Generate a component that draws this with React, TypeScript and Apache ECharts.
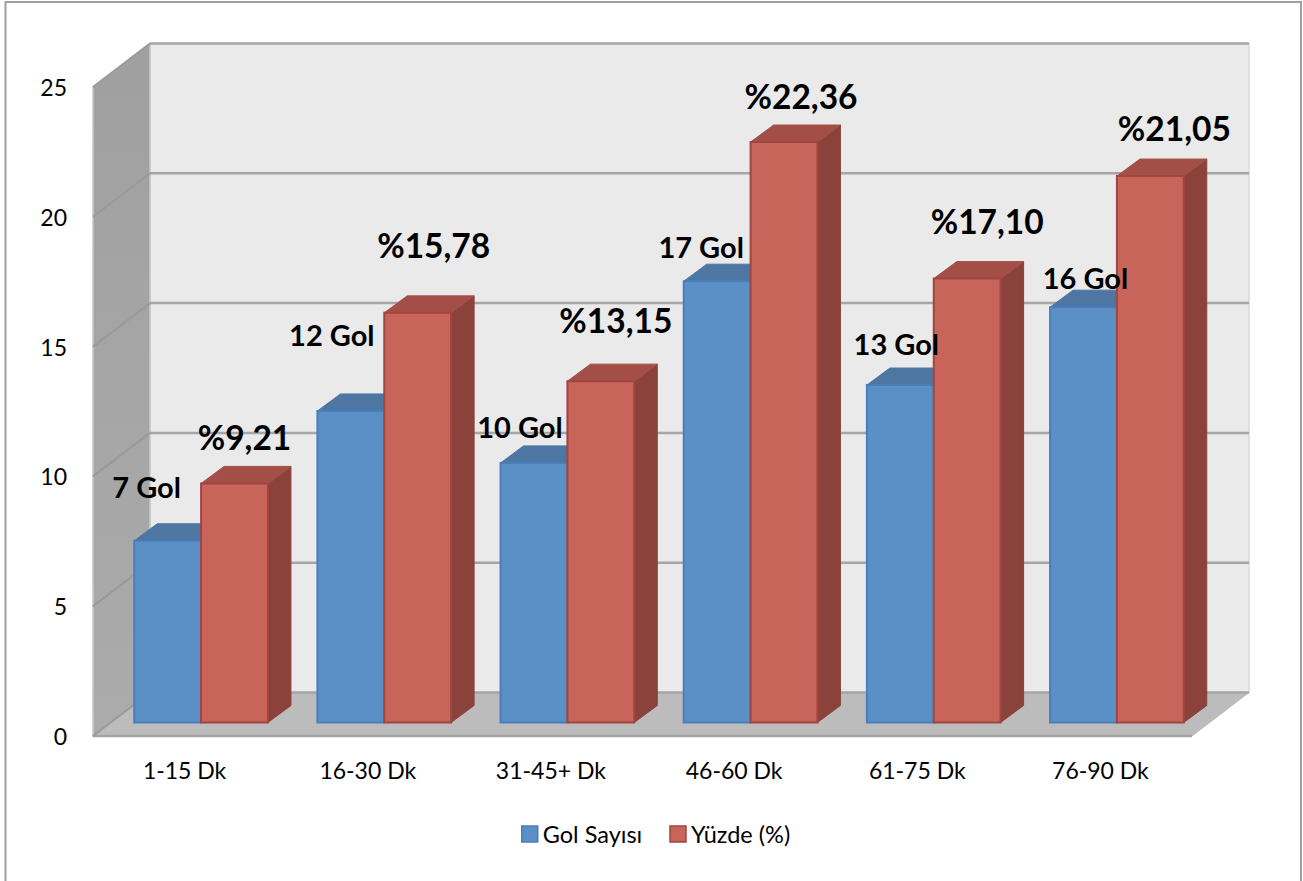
import React, { useEffect, useRef } from "react";
import * as echarts from "echarts";

const categories = ["1-15 Dk", "16-30 Dk", "31-45+ Dk", "46-60 Dk", "61-75 Dk", "76-90 Dk"];
const golValues = [7, 12, 10, 17, 13, 16];
const yuzdeValues = [9.21, 15.78, 13.15, 22.36, 17.1, 21.05];
const golLabels = ["7 Gol", "12 Gol", "10 Gol", "17 Gol", "13 Gol", "16 Gol"];
const yuzdeLabels = ["%9,21", "%15,78", "%13,15", "%22,36", "%17,10", "%21,05"];
const gridTicks = [0, 5, 10, 15, 20, 25];

// hand-placed data label offsets, relative to the top-centre of each bar's front face
const golLabelOffsets = [[-21, -54], [-19, -76], [-14, -36], [-16, -35], [-4, -42], [2, -30]];
const yuzdeLabelOffsets = [[10, -46], [16, -68], [15, -61], [17, -46], [20, -58], [24, -48]];

const FONT = "Lato, Carlito, Calibri, sans-serif";
const WALL_DX = 57;
const WALL_DY = -43.5;
const BAR_DX = 16.5;
const BAR_DY = -13.5;
const DEPTH_X = 23;
const DEPTH_Y = -17;
const BAR_RATIO = 0.365;

const poly = (points: number[][], style: any) => ({ type: "polygon", shape: { points }, style });
const seg = (a: number[], b: number[], stroke: string, lineWidth: number) => ({
  type: "line",
  shape: { x1: a[0], y1: a[1], x2: b[0], y2: b[1] },
  style: { stroke, lineWidth },
});

const wallsRender = (params: any) => {
  const r = params.coordSys;
  const L = r.x, R = r.x + r.width, T = r.y, B = r.y + r.height;
  return {
    type: "group",
    children: [
      poly([[L + WALL_DX, T + WALL_DY], [R + WALL_DX, T + WALL_DY], [R + WALL_DX, B + WALL_DY], [L + WALL_DX, B + WALL_DY]], { fill: "#EAEAEA", stroke: "#DADADA", lineWidth: 1.5 }),
      poly([[L, T], [L + WALL_DX, T + WALL_DY], [L + WALL_DX, B + WALL_DY], [L, B]], {
        fill: new echarts.graphic.LinearGradient(0, 0, 0, 1, [
          { offset: 0, color: "#A0A0A0" },
          { offset: 1, color: "#ABABAB" },
        ]),
        stroke: "#C8C8C8",
        lineWidth: 1.5,
      }),
      poly([[L, B], [L + WALL_DX, B + WALL_DY], [R + WALL_DX, B + WALL_DY], [R, B]], { fill: "#BCBCBC", stroke: "#BCBCBC", lineWidth: 1 }),
      seg([L, B], [R, B], "#A3A3A3", 2.5),
    ],
  };
};

const gridRender = (params: any, api: any) => {
  const r = params.coordSys;
  const y = api.coord([0, api.value(0)])[1];
  return {
    type: "group",
    children: [
      seg([r.x, y], [r.x + WALL_DX, y + WALL_DY], "#999999", 2),
      seg([r.x + WALL_DX, y + WALL_DY], [r.x + r.width + WALL_DX, y + WALL_DY], "#A6A6A6", 2.5),
    ],
  };
};

const barRender = (side: number, front: string, top: string, right: string, border: string) => (params: any, api: any) => {
  const [cx, yTop] = api.coord([api.value(0), api.value(1)]);
  const [, yBase] = api.coord([api.value(0), 0]);
  const w = api.size([1, 0])[0] * BAR_RATIO;
  const x0 = cx + BAR_DX + (side === 0 ? -w : 0);
  const x1 = x0 + w;
  const t = yTop + BAR_DY;
  const b = yBase + BAR_DY;
  return {
    type: "group",
    children: [
      poly([[x1, t], [x1 + DEPTH_X, t + DEPTH_Y], [x1 + DEPTH_X, b + DEPTH_Y], [x1, b]], { fill: right, stroke: right, lineWidth: 1 }),
      poly([[x0, t], [x0 + DEPTH_X, t + DEPTH_Y], [x1 + DEPTH_X, t + DEPTH_Y], [x1, t]], { fill: top, stroke: top, lineWidth: 1 }),
      { type: "rect", shape: { x: x0, y: t, width: w, height: b - t }, style: { fill: front, stroke: border, lineWidth: 2 } },
    ],
  };
};

const labelRender = (side: number, texts: string[], offsets: number[][], size: number) => (params: any, api: any) => {
  const i = api.value(0);
  const [cx, yTop] = api.coord([i, api.value(1)]);
  const w = api.size([1, 0])[0] * BAR_RATIO;
  const x = cx + BAR_DX + (side === 0 ? -w / 2 : w / 2) + offsets[i][0];
  const y = yTop + BAR_DY + offsets[i][1];
  return {
    type: "text",
    x,
    y,
    style: { text: texts[i], fill: "#000000", font: `bold ${size}px ${FONT}`, align: "center", verticalAlign: "middle" },
  };
};

const toData = (vals: number[]) => vals.map((v, i) => [i, v]);

export default function App() {
  const ref = useRef<HTMLDivElement>(null);
  useEffect(() => {
    const chart = echarts.init(ref.current!, null, { renderer: "svg" });
    chart.setOption({
      animation: false,
      backgroundColor: "#FFFFFF",
      textStyle: { fontFamily: FONT },
      graphic: [
        { type: "rect", shape: { x: 5.5, y: 2, width: 1295.5, height: 900 }, style: { fill: "none", stroke: "#A0A0A0", lineWidth: 2 } },
      ],
      grid: { left: 93, top: 87, width: 1099, height: 649 },
      xAxis: {
        type: "category",
        data: categories,
        axisLine: { show: false },
        axisTick: { show: false },
        axisLabel: { fontSize: 23, color: "#000000", fontFamily: FONT, margin: 22 },
      },
      yAxis: {
        type: "value",
        min: 0,
        max: 25,
        interval: 5,
        splitLine: { show: false },
        axisLine: { show: false },
        axisTick: { show: false },
        axisLabel: { fontSize: 23, color: "#000000", fontFamily: FONT, margin: 26, padding: [2, 0, 0, 0] },
      },
      legend: {
        left: 516,
        top: 817,
        itemWidth: 16,
        itemHeight: 16,
        itemGap: 27,
        textStyle: { fontSize: 23.5, color: "#000000", fontFamily: FONT },
        data: [
          { name: "Gol Sayısı", icon: "rect", itemStyle: { color: "#5B90C6", borderColor: "#4A7EBB", borderWidth: 1.5 } },
          { name: "Yüzde (%)", icon: "rect", itemStyle: { color: "#C9645A", borderColor: "#A0453F", borderWidth: 1.5 } },
        ],
      },
      series: [
        { type: "custom", name: "walls", data: [0], renderItem: wallsRender, silent: true, z: 1 },
        { type: "custom", name: "grid", data: gridTicks.map((t) => [t]), encode: { y: 0 }, renderItem: gridRender, silent: true, z: 2 },
        { type: "custom", name: "Gol Sayısı", data: toData(golValues), encode: { x: 0, y: 1 }, renderItem: barRender(0, "#5B90C6", "#4D76A2", "#3F6288", "#4A7EBB"), silent: true, z: 3 },
        { type: "custom", name: "Yüzde (%)", data: toData(yuzdeValues), encode: { x: 0, y: 1 }, renderItem: barRender(1, "#C9645A", "#A34F47", "#8B423B", "#A0453F"), silent: true, z: 4 },
        { type: "custom", name: "golLabels", data: toData(golValues), encode: { x: 0, y: 1 }, renderItem: labelRender(0, golLabels, golLabelOffsets, 29), silent: true, z: 5 },
        { type: "custom", name: "yuzdeLabels", data: toData(yuzdeValues), encode: { x: 0, y: 1 }, renderItem: labelRender(1, yuzdeLabels, yuzdeLabelOffsets, 33.5), silent: true, z: 5 },
      ],
    });
    return () => chart.dispose();
  }, []);
  return <div ref={ref} style={{ position: "absolute", left: 0, top: 0, width: 1303, height: 881 }} />;
}
